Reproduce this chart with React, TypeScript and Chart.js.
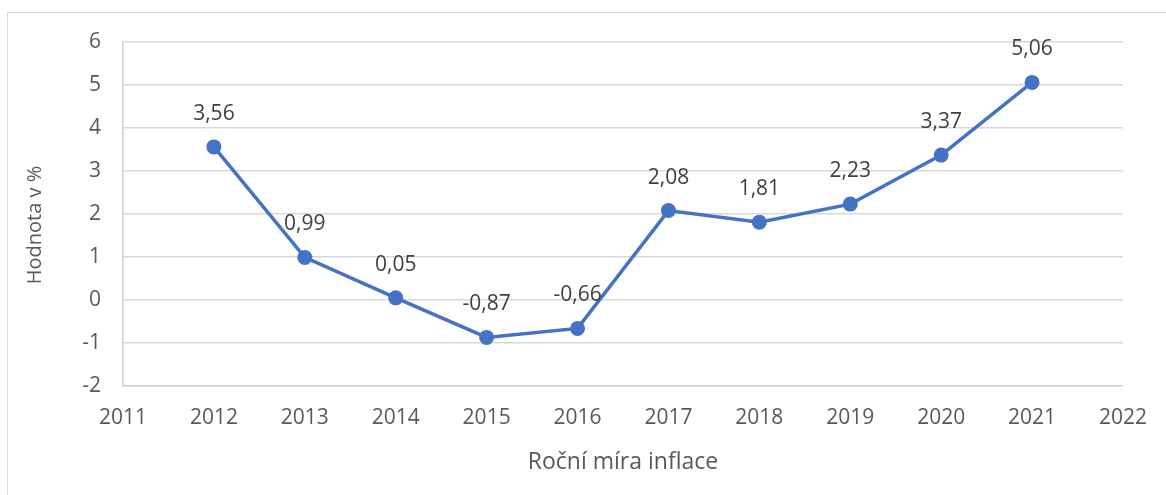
import React, { useEffect, useRef } from "react";
import { Chart, registerables } from "chart.js";

Chart.register(...registerables);

const years = [2012, 2013, 2014, 2015, 2016, 2017, 2018, 2019, 2020, 2021];
const inflation = [3.56, 0.99, 0.05, -0.87, -0.66, 2.08, 1.81, 2.23, 3.37, 5.06];
const xAxisTitle = "Roční míra inflace";
const yAxisTitle = "Hodnota v %";

const FONT = "'Open Sans', 'Noto Sans', sans-serif";

const labelPlugin = {
  id: "pointLabels",
  afterDatasetsDraw(chart: any) {
    const ctx = chart.ctx;
    const meta = chart.getDatasetMeta(0);
    ctx.save();
    ctx.font = `21px ${FONT}`;
    ctx.fillStyle = "#404040";
    ctx.textAlign = "center";
    ctx.textBaseline = "middle";
    meta.data.forEach((pt: any, i: number) => {
      const v = inflation[i];
      ctx.fillText(v.toFixed(2).replace(".", ","), pt.x, pt.y - 33);
    });
    ctx.restore();
  },
};

const yTitlePlugin = {
  id: "yTitle",
  afterDraw(chart: any) {
    const ctx = chart.ctx;
    const ys = chart.scales.y;
    const cy = (ys.top + ys.bottom) / 2 + 11;
    ctx.save();
    ctx.translate(35, cy);
    ctx.rotate(-Math.PI / 2);
    ctx.font = `20px ${FONT}`;
    ctx.fillStyle = "#595959";
    ctx.textAlign = "center";
    ctx.textBaseline = "middle";
    ctx.fillText(yAxisTitle, 0, 0);
    ctx.restore();
  },
};

export default function App() {
  const ref = useRef<HTMLCanvasElement>(null);
  useEffect(() => {
    document.body.style.margin = "0";
    const chart = new Chart(ref.current!, {
      type: "line",
      data: {
        datasets: [
          {
            data: years.map((y, i) => ({ x: y, y: inflation[i] })),
            borderColor: "#4472C4",
            backgroundColor: "#4472C4",
            borderWidth: 3.5,
            pointRadius: 7.5,
            pointHoverRadius: 7.5,
            pointBorderWidth: 0,
            tension: 0,
          },
        ],
      },
      options: {
        animation: false,
        responsive: false,
        maintainAspectRatio: false,
        layout: { padding: { left: 0, top: 42, right: 41, bottom: 0 } },
        plugins: { legend: { display: false }, tooltip: { enabled: false } },
        scales: {
          x: {
            type: "linear",
            min: 2011,
            max: 2022,
            ticks: {
              stepSize: 1,
              color: "#595959",
              font: { family: FONT, size: 21 },
              padding: 19,
              callback: (v: any) => String(v),
            },
            grid: { display: false, drawTicks: false },
            border: { display: true, color: "#d0d0d0", width: 1.5 },
            title: {
              display: true,
              text: xAxisTitle,
              color: "#595959",
              font: { family: FONT, size: 23 },
              padding: { top: 0, bottom: 19 },
            },
            afterFit: (s: any) => {
              s.height = 495 - 386;
            },
          },
          y: {
            min: -2,
            max: 6,
            ticks: {
              stepSize: 1,
              color: "#595959",
              font: { family: FONT, size: 21 },
              padding: 22,
              callback: (v: any) => String(v),
            },
            grid: { color: "#d9d9d9", lineWidth: 1.5, drawTicks: false },
            border: { display: true, color: "#d0d0d0", width: 1.5 },
            title: { display: false },
            afterFit: (s: any) => {
              s.width = 123;
            },
          },
        },
      },
      plugins: [labelPlugin, yTitlePlugin],
    } as any);
    return () => chart.destroy();
  }, []);
  return (
    <div style={{ position: "relative", width: 1166, height: 495, overflow: "hidden", background: "#fff" }}>
      <div
        style={{
          position: "absolute",
          left: 7,
          top: 12,
          width: 1200,
          height: 600,
          border: "1.5px solid #d9d9d9",
        }}
      />
      <canvas ref={ref} width={1166} height={495} style={{ position: "absolute", left: 0, top: 0 }} />
    </div>
  );
}
